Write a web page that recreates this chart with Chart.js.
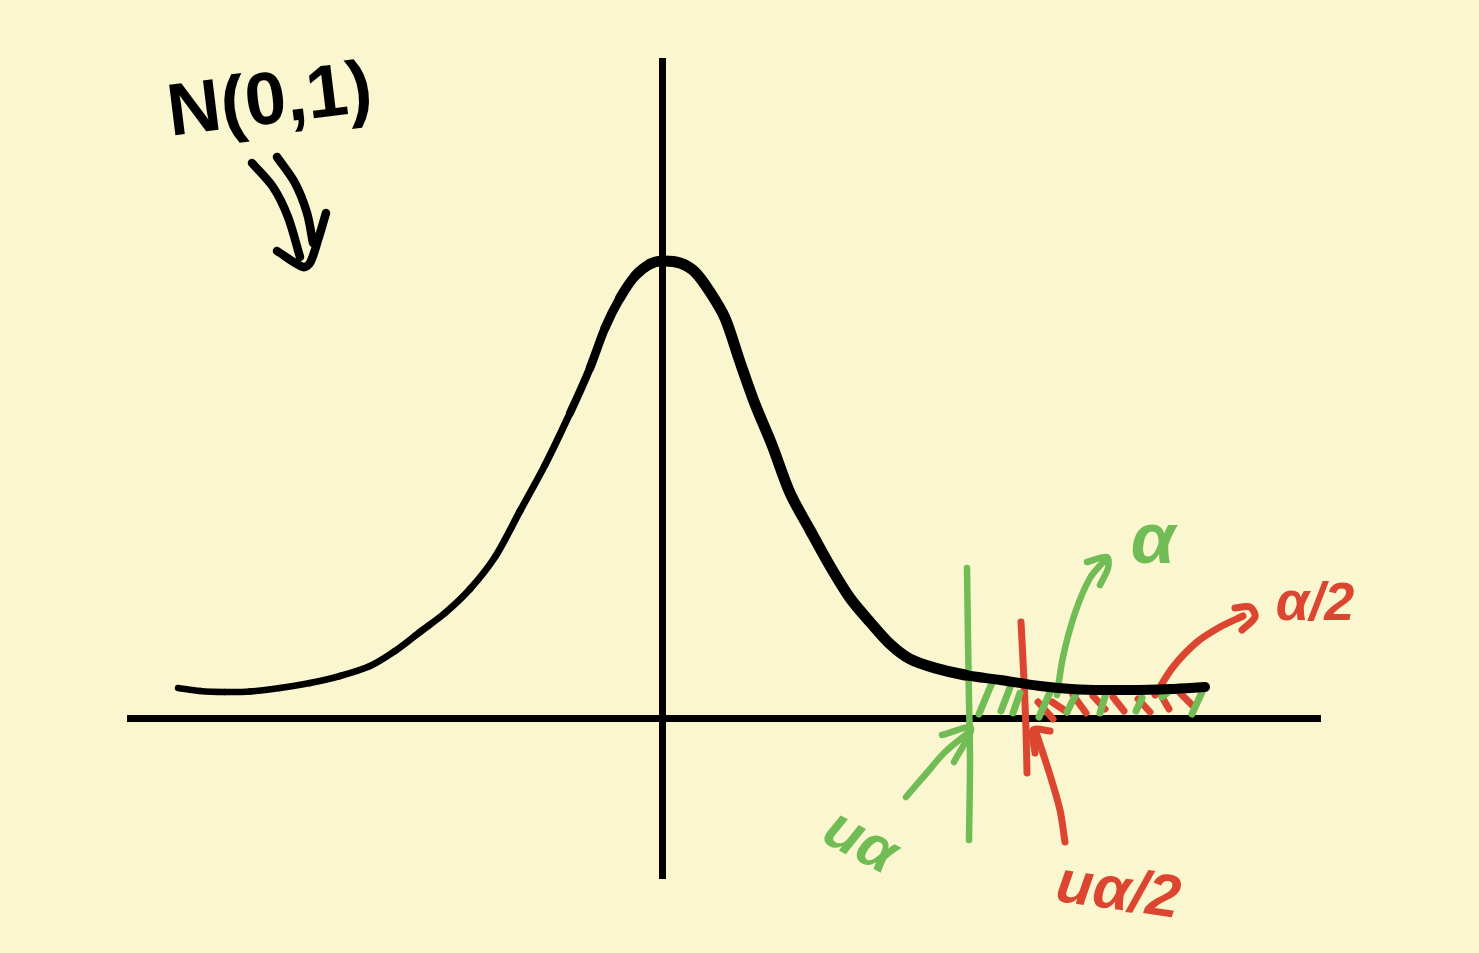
<!DOCTYPE html>
<html>
<head>
<meta charset="utf-8">
<title>N(0,1)</title>
<script src="https://cdn.jsdelivr.net/npm/chart.js@4"></script>
<style>
  html, body { margin: 0; padding: 0; background: #faf6cf; }
  canvas { display: block; }
</style>
</head>
<body>
<canvas id="myChart" width="1479" height="953"></canvas>
<script>
// density curve
const curveX = [-4.84, -4.62, -4.37, -4.12, -3.82, -3.52, -3.22, -2.92, -2.67, -2.42, -2.17, -1.92, -1.67, -1.42, -1.17, -0.92, -0.72, -0.57, -0.42, -0.27, -0.12, 0, 0.18, 0.33, 0.48, 0.63, 0.78, 0.93, 1.10, 1.28, 1.48, 1.68, 1.88, 2.08, 2.28, 2.48, 2.73, 3.03, 3.38, 3.78, 4.18, 4.68, 5.08, 5.43];
const curveY = [0.30, 0.27, 0.26, 0.265, 0.30, 0.35, 0.42, 0.52, 0.67, 0.86, 1.05, 1.29, 1.61, 2.07, 2.53, 3.05, 3.50, 3.90, 4.20, 4.42, 4.54, 4.57, 4.55, 4.46, 4.26, 4.00, 3.56, 3.14, 2.73, 2.25, 1.88, 1.52, 1.20, 0.96, 0.74, 0.59, 0.50, 0.43, 0.38, 0.32, 0.285, 0.28, 0.29, 0.31];

// cut-off lines
const greenCutX = [3.05, 3.06, 3.07, 3.08, 3.07];
const greenCutY = [1.50, 0.78, 0.18, -0.42, -1.22];
const redCutX = [3.59, 3.62, 3.64, 3.65];
const redCutY = [0.96, 0.38, -0.12, -0.55];

// shaded tail, null starts a new stroke
const greenHatchX = [3.17, 3.32, null, 3.39, 3.49, null, 3.51, 3.58, null, 3.77, 3.89, null, 4.05, 4.15, null, 4.38, 4.45, null, 4.74, 4.80, null, 5.00, 5.09, null, 5.30, 5.40];
const greenHatchY = [0.04, 0.40, null, 0.07, 0.33, null, 0.05, 0.25, null, 0.01, 0.28, null, 0.06, 0.26, null, 0.05, 0.28, null, 0.07, 0.20, null, 0.21, 0.28, null, 0.04, 0.26];
const redHatchX = [3.76, 3.91, null, 3.90, 4.05, null, 4.11, 4.24, null, 4.31, 4.43, null, 4.51, 4.62, null, 4.76, 4.88, null, 5.00, 5.07, null, 5.18, 5.30];
const redHatchY = [0.16, -0.01, null, 0.16, 0.06, null, 0.23, 0.05, null, 0.22, 0.09, null, 0.21, 0.07, null, 0.19, 0.06, null, 0.21, 0.09, null, 0.25, 0.13];

// arrows, shaft then head
const doubleArrowX = [-4.10, -3.89, -3.74, -3.62, null, -3.85, -3.67, -3.55, -3.49, null, -3.85, -3.59, -3.52, -3.44, -3.36];
const doubleArrowY = [5.55, 5.31, 5.01, 4.61, null, 5.61, 5.35, 5.05, 4.75, null, 4.67, 4.51, 4.55, 4.78, 5.05];
const greenArrowLeftX = [2.44, 2.63, 2.83, 3.06, null, 2.80, 3.09, 2.92];
const greenArrowLeftY = [-0.79, -0.57, -0.34, -0.15, null, -0.17, -0.10, -0.44];
const greenArrowUpX = [3.95, 4.01, 4.13, 4.28, 4.43, null, 4.25, 4.45, 4.46, 4.38];
const greenArrowUpY = [0.23, 0.61, 1.05, 1.40, 1.58, null, 1.56, 1.61, 1.50, 1.33];
const redArrowUpX = [4.03, 3.98, 3.88, 3.75, null, 3.73, 3.71, 3.88];
const redArrowUpY = [-1.24, -0.92, -0.57, -0.17, null, -0.35, -0.12, -0.13];
const redArrowRightX = [4.93, 5.11, 5.35, 5.58, 5.81, null, 5.73, 5.88, 5.93, 5.80];
const redArrowRightY = [0.23, 0.51, 0.76, 0.91, 1.02, null, 1.10, 1.11, 1.01, 0.88];

// handwritten labels
const labelText = ['N(0,1)', 'α', 'α/2', 'uα', 'uα/2'];
const labelX = [-3.92, 4.91, 6.53, 1.98, 4.56];
const labelY = [6.15, 1.75, 1.13, -1.25, -1.75];

const black = '#000000';
const green = '#72bc55';
const red = '#dc4530';

function points(xs, ys) {
    return xs.map((x, i) => ({ x: x, y: ys[i] }));
}

function stroke(xs, ys, color, width) {
    return {
        data: points(xs, ys),
        borderColor: color,
        borderWidth: width,
        borderCapStyle: 'round',
        borderJoinStyle: 'round',
        tension: 0.3,
        pointRadius: 0,
        clip: false
    };
}

const curve = stroke(curveX, curveY, black, 8);
curve.segment = {
    // pen gets heavier towards the peak
    borderWidth: function(ctx) {
        const x = ctx.p0.parsed.x;
        if (x < -1.2) return 6.5 + (x + 4.84) * 0.14;
        if (x < 0) return 7 + (x + 1.2) * 3.4;
        if (x < 3) return 11;
        return 10;
    }
};

const labelPlugin = {
    id: 'labels',
    afterDatasetsDraw(chart) {
        const ctx = chart.ctx;
        const fonts = ['bold 74px', 'italic bold 72px', 'italic bold 54px', 'italic bold 60px', 'italic bold 60px'];
        const angles = [-7, 0, 0, 28, 8];
        const colors = [black, green, red, green, red];
        labelText.forEach((text, i) => {
            ctx.save();
            ctx.translate(chart.scales.x.getPixelForValue(labelX[i]), chart.scales.y.getPixelForValue(labelY[i]));
            ctx.rotate(angles[i] * Math.PI / 180);
            ctx.font = fonts[i] + ' "Liberation Sans"';
            ctx.fillStyle = colors[i];
            ctx.textAlign = 'center';
            ctx.textBaseline = 'middle';
            ctx.fillText(text, 0, 0);
            ctx.restore();
        });
    }
};

new Chart(document.getElementById('myChart').getContext('2d'), {
    type: 'line',
    data: {
        datasets: [
            curve,
            stroke(greenHatchX, greenHatchY, green, 7),
            stroke(redHatchX, redHatchY, red, 7),
            stroke(greenCutX, greenCutY, green, 6.5),
            stroke(redCutX, redCutY, red, 7),
            stroke(doubleArrowX, doubleArrowY, black, 8.5),
            stroke(greenArrowLeftX, greenArrowLeftY, green, 6.5),
            stroke(greenArrowUpX, greenArrowUpY, green, 6.5),
            stroke(redArrowUpX, redArrowUpY, red, 7),
            stroke(redArrowRightX, redArrowRightY, red, 7)
        ]
    },
    options: {
        responsive: false,
        animation: false,
        layout: { padding: { left: 130, right: 159, top: 61, bottom: 75 } },
        plugins: { legend: { display: false }, tooltip: { enabled: false } },
        scales: {
            x: {
                type: 'linear',
                min: -5.32,
                max: 6.58,
                position: { y: 0 },
                grid: { display: false, drawTicks: false },
                border: { color: black, width: 7 },
                ticks: { display: false }
            },
            y: {
                min: -1.6,
                max: 6.57,
                position: { x: 0 },
                grid: { display: false, drawTicks: false },
                border: { color: black, width: 7 },
                ticks: { display: false }
            }
        }
    },
    plugins: [labelPlugin]
});
</script>
</body>
</html>
